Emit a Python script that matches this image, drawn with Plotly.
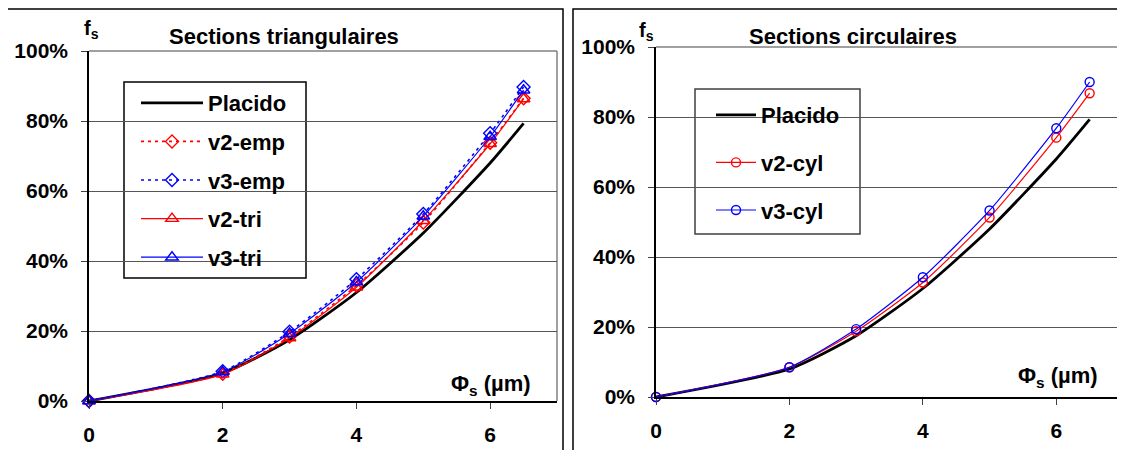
import plotly.graph_objects as go

# ---------------- data ----------------
phi = [0, 2, 3, 4, 5, 6, 6.5]
placido = [0, 8, 17.5, 31, 48, 68, 79.3]
v2_emp = [0, 7.8, 18.4, 33, 51, 73.8, 86.5]
v3_emp = [0, 8.5, 19.8, 34.8, 53.4, 76.5, 89.7]
v2_tri = [0, 7.6, 18, 32.5, 51.5, 73.5, 86.3]
v3_tri = [0, 8.3, 19.3, 34, 52.8, 75.5, 88.8]
v2_cyl = [0, 8.5, 18.8, 32.7, 51.3, 74.1, 86.8]
v3_cyl = [0, 8.5, 19.4, 34.2, 53.3, 76.8, 90]

x_ticks = [0, 2, 4, 6]
y_ticks = [0, 20, 40, 60, 80, 100]
y_labels = ["0%", "20%", "40%", "60%", "80%", "100%"]
titles = ["Sections triangulaires", "Sections circulaires"]

W, H = 1125, 450
OFF = 8  # page body margin
RED, BLUE = "#FF0000", "#0000FF"
FONT = "Liberation Sans, Arial, sans-serif"

def px(v):
    return (v - OFF) / W

def py(v):
    return 1 - (v - OFF) / H

fig = go.Figure()

def add(xa, ya, leg, name, y, color, width, symbol=None, dash="solid", size=9):
    mode = "lines+markers" if symbol else "lines"
    fig.add_trace(go.Scatter(
        x=phi, y=y, name=name, mode=mode, xaxis=xa, yaxis=ya, legend=leg,
        legendgroup=leg + name, cliponaxis=False,
        line=dict(color=color, width=width, dash=dash, shape="spline", smoothing=0.6),
        marker=dict(symbol=symbol, size=size, color=color,
                    line=dict(color=color, width=1.4)) if symbol else None,
    ))

# left panel
add("x", "y", "legend", "Placido", placido, "black", 2.8)
add("x", "y", "legend", "v2-emp", v2_emp, RED, 1.6, "diamond-open", "3px,4px", 10)
add("x", "y", "legend", "v3-emp", v3_emp, BLUE, 1.6, "diamond-open", "3px,4px", 10)
add("x", "y", "legend", "v2-tri", v2_tri, RED, 1.2, "triangle-up-open", "solid", 11)
add("x", "y", "legend", "v3-tri", v3_tri, BLUE, 1.2, "triangle-up-open", "solid", 11)
# right panel
add("x2", "y2", "legend2", "Placido", placido, "black", 2.8)
add("x2", "y2", "legend2", "v2-cyl", v2_cyl, RED, 1.2, "circle-open", "solid", 9)
add("x2", "y2", "legend2", "v3-cyl", v3_cyl, BLUE, 1.2, "circle-open", "solid", 9)

tickfont = dict(family=FONT, size=21, color="black", weight="bold")

def xaxis(domain, anchor):
    return dict(domain=domain, anchor=anchor, range=[0, 7], tickmode="array",
                tickvals=x_ticks, ticktext=[str(v) for v in x_ticks],
                ticks="outside", ticklen=6, tickcolor="#404040", tickwidth=1,
                showline=True, linecolor="black", linewidth=1.5,
                showgrid=False, zeroline=False, tickfont=tickfont,
                ticklabelstandoff=8, automargin=False)

def yaxis(domain, anchor):
    return dict(domain=domain, anchor=anchor, range=[0, 100], tickmode="array",
                tickvals=y_ticks, ticktext=y_labels,
                ticks="outside", ticklen=6, tickcolor="#404040",
                tickwidth=1, showline=True, linecolor="black", linewidth=1.5,
                showgrid=True, gridcolor="#555555", gridwidth=1.2, zeroline=False,
                tickfont=tickfont, ticklabelstandoff=9, automargin=False)

legfont = dict(family=FONT, size=22, color="black", weight="bold")

fig.update_layout(
    width=W, height=H,
    margin=dict(l=0, r=0, t=0, b=0, pad=0, autoexpand=False),
    paper_bgcolor="white", plot_bgcolor="white",
    xaxis=xaxis([px(89), px(557)], "y"),
    yaxis=yaxis([py(401), py(51)], "x"),
    xaxis2=xaxis([px(656), px(1123)], "y2"),
    yaxis2=yaxis([py(397), py(47)], "x2"),
    legend=dict(x=px(136), y=py(82), xanchor="left", yanchor="top",
                bgcolor="rgba(0,0,0,0)", borderwidth=0,
                font=legfont, itemwidth=62, tracegroupgap=7),
    legend2=dict(x=px(711), y=py(94), xanchor="left", yanchor="top",
                 bgcolor="rgba(0,0,0,0)", borderwidth=0,
                 font=legfont, itemwidth=40, tracegroupgap=16),
    showlegend=True,
)

shapes = []
# outer panel frames
shapes.append(dict(type="rect", xref="paper", yref="paper", x0=px(7), x1=px(563),
                   y0=py(470), y1=py(9), line=dict(color="black", width=1.5)))
shapes.append(dict(type="rect", xref="paper", yref="paper", x0=px(573), x1=px(1150),
                   y0=py(470), y1=py(9), line=dict(color="black", width=1.5)))
# gray top/right plot-area borders
for xr, yr in (("x domain", "y domain"), ("x2 domain", "y2 domain")):
    shapes.append(dict(type="line", xref=xr, yref=yr, x0=0, x1=1, y0=1, y1=1,
                       line=dict(color="#808080", width=1.5), layer="below"))
    shapes.append(dict(type="line", xref=xr, yref=yr, x0=1, x1=1, y0=0, y1=1,
                       line=dict(color="#808080", width=1.5), layer="below"))
# legend boxes (white, covering the grid, below the traces)
shapes.append(dict(type="rect", xref="paper", yref="paper", x0=px(124), x1=px(306),
                   y0=py(278), y1=py(82), fillcolor="white",
                   line=dict(color="black", width=1.5), layer="between"))
shapes.append(dict(type="rect", xref="paper", yref="paper", x0=px(695), x1=px(860),
                   y0=py(234), y1=py(89), fillcolor="white",
                   line=dict(color="#404040", width=1.5), layer="between"))
fig.update_layout(shapes=shapes)

ann_font = dict(family=FONT, size=22, color="black", weight="bold")
fs_font = dict(family=FONT, size=20, color="black", weight="bold")

def ann(text, x, y, font):
    return dict(text=text, x=px(x), y=py(y), xref="paper", yref="paper",
                xanchor="center", yanchor="middle", showarrow=False, font=font)

anns = [
    ann(titles[0], 284, 37, ann_font),
    ann(titles[1], 853, 37, ann_font),
    ann("f<sub>s</sub>", 91, 30, fs_font),
    ann("f<sub>s</sub>", 646, 31, fs_font),
    ann("Φ<sub>s</sub> (µm)", 491, 385, ann_font),
    ann("Φ<sub>s</sub> (µm)", 1058, 377, ann_font),
]
fig.update_layout(annotations=anns)

fig.write_html("out.html")
